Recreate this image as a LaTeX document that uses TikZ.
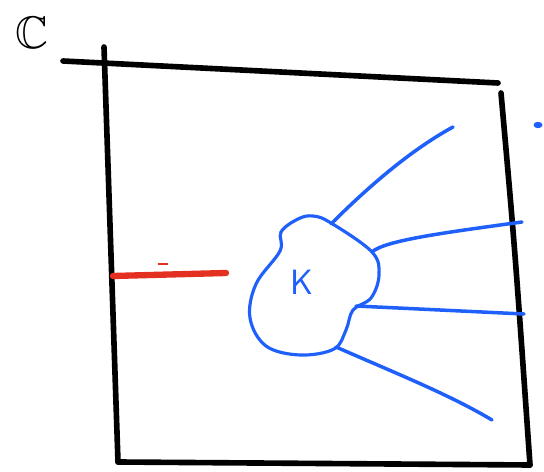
\documentclass[tikz,border=0pt]{standalone}
\usepackage{amssymb}
\usetikzlibrary{calc}
\definecolor{penblue}{RGB}{32,96,250}
\definecolor{penred}{RGB}{228,48,32}
\tikzset{
  frameline/.style={line width=3.2pt, line cap=round, black},
  rayline/.style={line width=2pt, line cap=round, penblue},
}

\begin{document}
\begin{tikzpicture}[x=0.02cm, y=-0.02cm]
\useasboundingbox (0,0) rectangle (544,472);

% corners of the square
\coordinate (TopLeftA)  at (63,61);
\coordinate (TopRight)  at (498,83);
\coordinate (LeftTop)   at (104,47);
\coordinate (LeftBot)   at (118,462);
\coordinate (BotRight)  at (530,465);
\coordinate (RightTop)  at (501,93);

\draw [frameline] (TopLeftA) -- (TopRight);% top
\draw [frameline] (LeftTop) -- (LeftBot);% left
\draw [frameline] (LeftBot) -- (BotRight);% bottom
\draw [frameline] (RightTop) .. controls (515,250) .. (BotRight);% right

\node [inner sep=0pt] (Cplx) at (32,33) {\fontsize{26}{28}\selectfont$\mathbb{C}$};

% the red cut
\coordinate (CutStart) at (113,276);
\coordinate (CutEnd)   at (226,273);
\draw [line width=3.6pt, line cap=round, penred] (CutStart) -- (CutEnd);
\draw [line width=1pt, penred] (158,264) -- (168,264);

% the compact set
\draw [rayline, line width=1.8pt] plot[smooth cycle, tension=0.6] coordinates {
  (313,216) (331,223) (372,252) (379,275) (371,298) (353,310)
  (346,330) (334,349) (300,355) (266,346) (250,318) (256,284)
  (280,251) (281,232) (298,219)};
\node [text=penblue, font=\sffamily\fontsize{20}{22}\selectfont] (Kset) at (302,282) {K};

% rays leaving K
\coordinate (RayOneA)   at (331,224);
\coordinate (RayOneB)   at (453,127);
\coordinate (RayTwoA)   at (372,252);
\coordinate (RayTwoB)   at (522,222);
\coordinate (RayThreeA) at (356,306);
\coordinate (RayThreeB) at (524,314);
\coordinate (RayFourA)  at (336,347);
\coordinate (RayFourB)  at (492,420);

\draw [rayline] (RayOneA) .. controls (380,175) and (420,145) .. (RayOneB);
\draw [rayline] (RayTwoA) .. controls (385,240) and (450,232) .. (RayTwoB);
\draw [rayline] (RayThreeA) -- (RayThreeB);
\draw [rayline] (RayFourA) .. controls (400,375) and (450,395) .. (RayFourB);

\fill [penblue] (538,125) ellipse (4.5 and 3.2);
\end{tikzpicture}
\end{document}
